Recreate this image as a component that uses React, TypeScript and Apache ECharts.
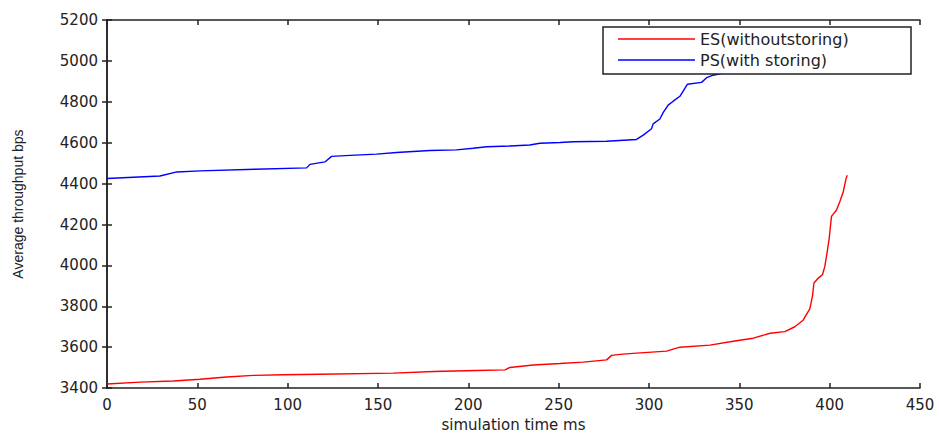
import React, { useEffect, useRef } from "react";
import * as echarts from "echarts";

const esTime = [0, 18.3, 36.7, 51.5, 66.2, 81, 97.6, 117.9, 158.5, 180.7, 204.6, 220.3, 223, 235.9, 250.7, 263.6, 276.5, 279.3, 284, 291.2, 309.7, 317.1, 333.7, 346.6, 357.7, 367, 375.2, 380.7, 385.3, 389, 390.5, 391.3, 393.7, 396, 397.3, 398.6, 399.7, 401, 403.8, 405.6, 407.5, 409, 409.7];
const esThroughput = [3420, 3429, 3435, 3443, 3454, 3462, 3465, 3468, 3473, 3481, 3486, 3489, 3501, 3513, 3520, 3527, 3538, 3560, 3565, 3570, 3581, 3600, 3610, 3629, 3644, 3668, 3676, 3700, 3732, 3787, 3851, 3914, 3938, 3954, 3994, 4065, 4129, 4240, 4271, 4311, 4359, 4422, 4441];

const psTime = [0, 29.3, 38.7, 51.5, 81.9, 110.5, 112.3, 120.6, 124.3, 134.5, 149.2, 160.3, 169.4, 178.7, 193.5, 202.6, 210.1, 223, 234, 239.6, 250.7, 258, 276.5, 293.1, 296.8, 301.4, 302.3, 306, 307.9, 310.6, 313.4, 317.1, 321.3, 329.1, 331.9, 335.5, 341.1, 360, 385, 410];
const psThroughput = [4425, 4437, 4457, 4462, 4470, 4477, 4494, 4506, 4533, 4538, 4544, 4552, 4557, 4562, 4565, 4573, 4580, 4584, 4589, 4597, 4601, 4605, 4607, 4616, 4637, 4668, 4692, 4716, 4748, 4784, 4803, 4827, 4886, 4895, 4918, 4930, 4940, 4965, 4990, 5015];

const xTicks = { min: 0, max: 450, interval: 50 };
const yTicks = { min: 3400, max: 5200, interval: 200 };

const seriesNames = ["ES(withoutstoring)", "PS(with storing)"];
const xName = "simulation time ms";
const yName = "Average throughput bps";

export default function App() {
  const ref = useRef<HTMLDivElement>(null);
  useEffect(() => {
    if (!ref.current) return;
    const chart = echarts.init(ref.current, null, { renderer: "svg" });
    const axisLine = { show: true, lineStyle: { color: "#222", width: 1.5 } };
    const tickStyle = { show: true, inside: true, length: 5, lineStyle: { color: "#222", width: 1.5 } };
    const labelFont = { color: "#222", fontSize: 15, fontFamily: "DejaVu Sans", formatter: (v: number) => String(v) };
    chart.setOption({
      animation: false,
      backgroundColor: "#fff",
      grid: { left: 107, right: 19, top: 20, bottom: 38, containLabel: false },
      xAxis: [
        {
          type: "value",
          ...xTicks,
          position: "bottom",
          name: xName,
          nameLocation: "middle",
          nameGap: 32,
          nameTextStyle: { color: "#222", fontSize: 15, fontFamily: "DejaVu Sans", verticalAlign: "middle" },
          axisLine,
          axisTick: tickStyle,
          axisLabel: { ...labelFont, margin: 9 },
          splitLine: { show: false },
        },
        {
          type: "value",
          ...xTicks,
          position: "top",
          axisLine,
          axisTick: tickStyle,
          axisLabel: { show: false },
          splitLine: { show: false },
        },
      ],
      yAxis: [
        {
          type: "value",
          ...yTicks,
          position: "left",
          name: yName,
          nameLocation: "middle",
          nameGap: 82,
          nameTextStyle: { color: "#222", fontSize: 14, fontFamily: "Liberation Sans" },
          axisLine,
          axisTick: tickStyle,
          axisLabel: { ...labelFont, margin: 9 },
          splitLine: { show: false },
        },
        {
          type: "value",
          ...yTicks,
          position: "right",
          axisLine,
          axisTick: tickStyle,
          axisLabel: { show: false },
          splitLine: { show: false },
        },
      ],
      legend: {
        orient: "vertical",
        left: 603,
        top: 29,
        padding: [2, 8, 2, 15],
        itemWidth: 77,
        itemHeight: 1.5,
        itemGap: 5,
        z: 20,
        icon: "rect",
        textStyle: { color: "#222", fontSize: 16, fontFamily: "DejaVu Sans", lineHeight: 16 },
        data: seriesNames.map((n) => ({ name: n, icon: "rect" })),
      },
      graphic: [
        {
          type: "rect",
          z: 15,
          zlevel: 0,
          shape: { x: 603, y: 27, width: 308, height: 47 },
          style: { fill: "#fff", stroke: "#222", lineWidth: 1.5 },
        },
      ],
      series: [
        {
          name: seriesNames[0],
          type: "line",
          symbol: "none",
          lineStyle: { color: "#ff0000", width: 1.4 },
          itemStyle: { color: "#ff0000" },
          data: esTime.map((t, i) => [t, esThroughput[i]]),
        },
        {
          name: seriesNames[1],
          type: "line",
          symbol: "none",
          lineStyle: { color: "#0000ff", width: 1.4 },
          itemStyle: { color: "#0000ff" },
          data: psTime.map((t, i) => [t, psThroughput[i]]),
        },
      ],
    });
    return () => chart.dispose();
  }, []);
  return (
    <div
      ref={ref}
      style={{ position: "fixed", left: 0, top: 0, width: 939, height: 437 }}
    />
  );
}
